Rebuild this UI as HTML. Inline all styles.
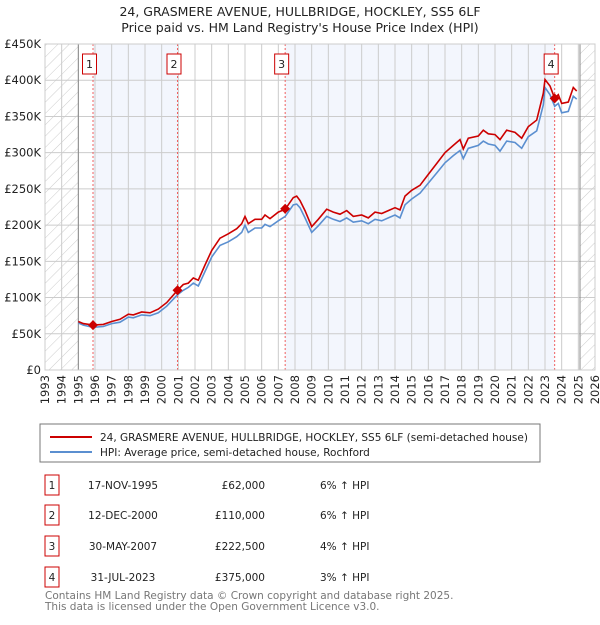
<!DOCTYPE html>
<html><head><meta charset="utf-8"><style>
body{margin:0;background:#fff;font-family:"Liberation Sans","DejaVu Sans",sans-serif;}
#wrap{position:relative;width:600px;height:620px;}
svg text{font-family:"DejaVu Sans","Liberation Sans",sans-serif;}
</style></head><body>
<div id="wrap">
<svg id="chart" width="600" height="620" xmlns="http://www.w3.org/2000/svg">
<defs><pattern id="hatch" width="8" height="8" patternUnits="userSpaceOnUse" patternTransform="rotate(45)"><line x1="0" y1="0" x2="0" y2="8" stroke="#ccc" stroke-width="1"/></pattern></defs>
<text x="300" y="16" text-anchor="middle" font-size="12.5" fill="#222">24, GRASMERE AVENUE, HULLBRIDGE, HOCKLEY, SS5 6LF</text>
<text x="300" y="32" text-anchor="middle" font-size="12.5" fill="#222">Price paid vs. HM Land Registry's House Price Index (HPI)</text>
<g id="plot"></g>
<rect x="40" y="424" width="500" height="38" fill="#fff" stroke="#777"/>
<line x1="50" y1="437" x2="92" y2="437" stroke="#cc0000" stroke-width="2"/>
<text x="100" y="441" font-size="10.5" fill="#222">24, GRASMERE AVENUE, HULLBRIDGE, HOCKLEY, SS5 6LF (semi-detached house)</text>
<line x1="50" y1="452" x2="92" y2="452" stroke="#5b8fd0" stroke-width="2"/>
<text x="100" y="456" font-size="10.5" fill="#222">HPI: Average price, semi-detached house, Rochford</text>
<g id="table" font-size="10.5" fill="#222"></g>
<text x="45" y="599" font-size="10.5" fill="#777">Contains HM Land Registry data © Crown copyright and database right 2025.</text>
<text x="45" y="610" font-size="10.5" fill="#777">This data is licensed under the Open Government Licence v3.0.</text>
</svg>
</div>
<script>
const yTicks=[0,50,100,150,200,250,300,350,400,450];
const yTickLabels=["£0","£50K","£100K","£150K","£200K","£250K","£300K","£350K","£400K","£450K"];
const xYears=[1993,1994,1995,1996,1997,1998,1999,2000,2001,2002,2003,2004,2005,2006,2007,2008,2009,2010,2011,2012,2013,2014,2015,2016,2017,2018,2019,2020,2021,2022,2023,2024,2025,2026];
const redT=[1995.0,1995.3,1995.88,1996.5,1997,1997.5,1998,1998.3,1998.8,1999.3,1999.8,2000.3,2000.95,2001.3,2001.6,2001.9,2002.2,2002.6,2003,2003.5,2004,2004.5,2004.8,2005.0,2005.2,2005.6,2006,2006.2,2006.5,2007,2007.41,2007.9,2008.1,2008.3,2008.6,2009.0,2009.4,2009.9,2010.3,2010.7,2011.1,2011.5,2012,2012.4,2012.8,2013.2,2013.6,2014,2014.3,2014.6,2015,2015.5,2016,2016.5,2017,2017.5,2017.9,2018.1,2018.4,2019,2019.3,2019.6,2020,2020.3,2020.7,2021.2,2021.6,2022,2022.5,2022.9,2023.0,2023.3,2023.58,2023.8,2024.0,2024.4,2024.7,2024.9];
const redV=[67,64,62,63,67,70,77,76,80,79,84,93,110,118,120,127,124,145,165,182,188,195,202,212,202,208,208,214,209,218,222,238,240,234,220,198,208,222,218,215,220,212,214,210,218,216,220,224,221,240,248,255,270,285,300,310,318,305,320,323,331,326,325,318,331,328,320,336,345,382,401,392,375,380,368,370,390,385];
const blueT=[1995.0,1995.3,1995.88,1996.5,1997,1997.5,1998,1998.3,1998.8,1999.3,1999.8,2000.3,2000.95,2001.3,2001.6,2001.9,2002.2,2002.6,2003,2003.5,2004,2004.5,2004.8,2005.0,2005.2,2005.6,2006,2006.2,2006.5,2007,2007.41,2007.9,2008.1,2008.3,2008.6,2009.0,2009.4,2009.9,2010.3,2010.7,2011.1,2011.5,2012,2012.4,2012.8,2013.2,2013.6,2014,2014.3,2014.6,2015,2015.5,2016,2016.5,2017,2017.5,2017.9,2018.1,2018.4,2019,2019.3,2019.6,2020,2020.3,2020.7,2021.2,2021.6,2022,2022.5,2022.9,2023.0,2023.3,2023.58,2023.8,2024.0,2024.4,2024.7,2024.9];
const blueV=[65,62,59,60,64,66,73,72,76,75,79,88,104,110,114,120,116,136,156,172,177,184,190,200,190,196,196,201,198,206,212,228,229,224,210,190,199,212,208,205,210,204,206,202,208,206,210,214,210,228,236,244,258,272,286,296,303,292,306,310,316,312,310,302,316,314,306,322,330,366,390,380,364,368,355,357,378,374];
const saleT=[1995.88,2000.95,2007.41,2023.58];
const saleV=[62,110,222.5,375];
const saleLabels=["1","2","3","4"];
const saleDates=["17-NOV-1995","12-DEC-2000","30-MAY-2007","31-JUL-2023"];
const salePrices=["£62,000","£110,000","£222,500","£375,000"];
const saleHpi=["6% ↑ HPI","6% ↑ HPI","4% ↑ HPI","3% ↑ HPI"];
const X0=45,X1=595,Y0=370,Y1=44,T0=1993,T1=2026,VMAX=450;
const xs=t=>X0+(t-T0)/(T1-T0)*(X1-X0);
const ys=v=>Y0-v/VMAX*(Y0-Y1);
const NS="http://www.w3.org/2000/svg";
const plot=document.getElementById('plot');
function mk(tag,attrs,parent){const e=document.createElementNS(NS,tag);for(const k in attrs)e.setAttribute(k,attrs[k]);(parent||plot).appendChild(e);return e;}
let e;
e=mk('rect',{x:X0,y:Y1,width:X1-X0,height:Y0-Y1,fill:'#fff'});


[[0,1],[2,3]].forEach(p=>{
 e=mk('rect',{x:xs(saleT[p[0]]),y:Y1,width:xs(saleT[p[1]])-xs(saleT[p[0]]),height:Y0-Y1,fill:'#f3f6fd'});
 
 
});
e=mk('rect',{x:X0,y:Y1,width:xs(1995)-X0,height:Y0-Y1,fill:'url(#hatch)'});


e=mk('rect',{x:xs(2025.1),y:Y1,width:X1-xs(2025.1),height:Y0-Y1,fill:'url(#hatch)'});


xYears.forEach(y=>{
 e=mk('line',{x1:xs(y),x2:xs(y),y1:Y1,y2:Y0,stroke:'#ccc','stroke-width':1});
 
 
 e=mk('text',{x:0,y:0,transform:`translate(${xs(y)+4},${Y0+5}) rotate(-90)`,'text-anchor':'end','font-size':11.5,fill:'#222'});
 e.textContent=y;
 
 
});
yTicks.forEach((v,i)=>{
 e=mk('line',{x1:X0,x2:X1,y1:ys(v),y2:ys(v),stroke:'#ccc','stroke-width':1});
 
 
 e=mk('text',{x:X0-4,y:ys(v)+4,'text-anchor':'end','font-size':11.5,fill:'#222'});
 e.textContent=yTickLabels[i];
 
 
});
e=mk('line',{x1:xs(1995),x2:xs(1995),y1:Y1,y2:Y0,stroke:'#888'});


e=mk('line',{x1:xs(2025.1),x2:xs(2025.1),y1:Y1,y2:Y0,stroke:'#888'});


saleT.forEach((t,i)=>{
 e=mk('line',{x1:xs(t),x2:xs(t),y1:Y1,y2:Y0,stroke:'#f06060','stroke-width':1,'stroke-dasharray':'2,2'});
 
 
 e=mk('rect',{x:xs(t)-10.5,y:54,width:14,height:20,fill:'#fff',stroke:'#cc0000'});
 
 
 e=mk('text',{x:xs(t)-3.5,y:68,'text-anchor':'middle','font-size':11,fill:'#222'});
 e.textContent=saleLabels[i];
 
 
});
e=mk('path',{d:blueT.map((t,i)=>(i?'L':'M')+xs(t).toFixed(1)+','+ys(blueV[i]).toFixed(1)).join(''),fill:'none',stroke:'#5b8fd0','stroke-width':1.6});


e=mk('path',{d:redT.map((t,i)=>(i?'L':'M')+xs(t).toFixed(1)+','+ys(redV[i]).toFixed(1)).join(''),fill:'none',stroke:'#cc0000','stroke-width':1.6});


saleT.forEach((t,i)=>{
 const cx=xs(t),cy=ys(saleV[i]);
 e=mk('path',{d:`M${cx},${cy-5}L${cx+5},${cy}L${cx},${cy+5}L${cx-5},${cy}Z`,fill:'#cc0000'});
 
 
});
e=mk('rect',{x:X0,y:Y1,width:X1-X0,height:Y0-Y1,fill:'none',stroke:'#ccc'});


const tb=document.getElementById('table');
const rowY=[484,514,545,576];
saleLabels.forEach((l,i)=>{
 const y=rowY[i];
 e=mk('rect',{x:45,y:y-9,width:14,height:20,fill:'#fff',stroke:'#cc0000'},tb);
 
 
 e=mk('text',{x:52,y:y+5,'text-anchor':'middle'},tb);e.textContent=l;
 
 
 e=mk('text',{x:123,y:y+5,'text-anchor':'middle'},tb);e.textContent=saleDates[i];
 
 
 e=mk('text',{x:265,y:y+5,'text-anchor':'end'},tb);e.textContent=salePrices[i];
 
 
 e=mk('text',{x:320,y:y+5},tb);e.textContent=saleHpi[i];
 
 
});
</script>
</body></html>
